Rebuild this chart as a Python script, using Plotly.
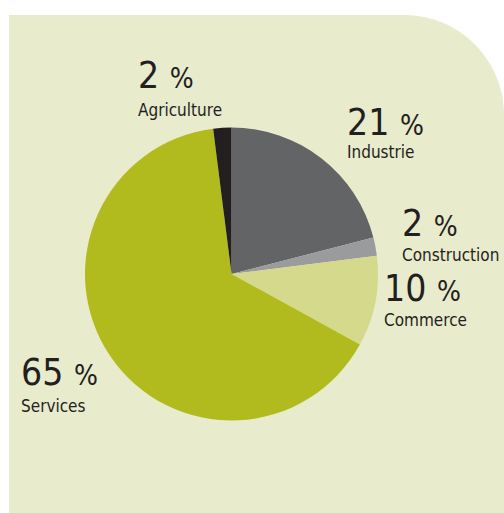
import plotly.graph_objects as go

W, H = 504, 513

labels = ["Industrie", "Construction", "Commerce", "Services", "Agriculture"]
values = [21, 2, 10, 65, 2]
colors = ["#636466", "#9a9b9d", "#d5d98b", "#b2bb1e", "#231f20"]

# label placement (pixels: left x, baseline of number, baseline of label)
label_pos = {
    "Agriculture": (137, 90, 117),
    "Industrie": (346, 137, 159),
    "Construction": (401, 238, 262),
    "Commerce": (383, 303, 327),
    "Services": (20, 387, 413),
}

FONT = "DejaVu Sans Condensed, Liberation Sans Narrow, sans-serif"
TXT = "#231f20"

def px(x):
    return x / W

def py(y):
    return 1 - y / H

fig = go.Figure()

cx, cy, r = 231.5, 274, 146.5
fig.add_trace(go.Pie(
    labels=labels, values=values, sort=False, direction="clockwise", rotation=0,
    marker=dict(colors=colors, line=dict(width=0)),
    textinfo="none", hoverinfo="label+percent", showlegend=False,
    domain=dict(x=[px(cx - r), px(cx + r)], y=[py(cy + r), py(cy - r)]),
))

# background panel with rounded top-right corner
x0, y0, x1, y1 = 9, 15, 504, 513
rad = 100
k = 0.552 * rad
path = (f"M {px(x0)} {py(y0)} L {px(x1 - rad)} {py(y0)} "
        f"C {px(x1 - rad + k)} {py(y0)} {px(x1)} {py(y0 + rad - k)} {px(x1)} {py(y0 + rad)} "
        f"L {px(x1)} {py(y1)} L {px(x0)} {py(y1)} Z")
fig.add_shape(type="path", path=path, xref="paper", yref="paper",
              fillcolor="#e9ebcd", line=dict(width=0), layer="below")

annotations = []
for lab, val in zip(labels, values):
    lx, nb, lb = label_pos[lab]
    annotations.append(dict(
        x=px(lx), y=py(nb + 8), xref="paper", yref="paper",
        xanchor="left", yanchor="bottom", showarrow=False,
        text=f"{val} <span style='font-size:28px'>%</span>",
        font=dict(family=FONT, size=37, color=TXT), borderpad=0,
    ))
    annotations.append(dict(
        x=px(lx), y=py(lb + 4), xref="paper", yref="paper",
        xanchor="left", yanchor="bottom", showarrow=False,
        text=lab, font=dict(family=FONT, size=17, color=TXT), borderpad=0,
    ))

fig.update_layout(
    width=W, height=H, margin=dict(l=0, r=0, t=0, b=0),
    paper_bgcolor="white", plot_bgcolor="white",
    annotations=annotations,
)

fig.write_html("out.html", config={"displayModeBar": False},
               post_script="document.body.style.margin='0px';")
